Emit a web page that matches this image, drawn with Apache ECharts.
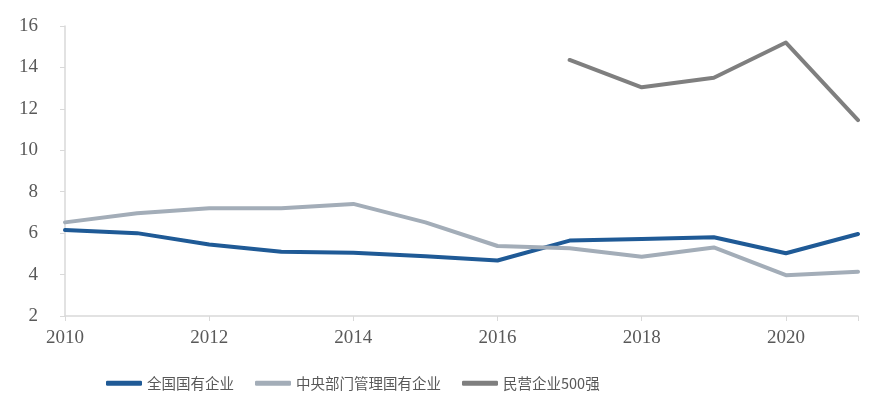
<!DOCTYPE html>
<html><head><meta charset="utf-8">
<script src="https://cdn.jsdelivr.net/npm/echarts@6/dist/echarts.min.js"></script>
<style>html,body{margin:0;padding:0;background:#fff}#c{width:889px;height:404px}</style>
</head><body><div id="c"></div>
<script>
const years = [2010,2011,2012,2013,2014,2015,2016,2017,2018,2019,2020,2021];
const seriesNames = ['全国国有企业','中央部门管理国有企业','民营企业500强'];
const stateAll = [6.15,6.0,5.45,5.1,5.05,4.88,4.68,5.64,5.72,5.8,5.03,5.96];
const central = [6.52,6.96,7.2,7.2,7.41,6.52,5.38,5.27,4.86,5.31,3.97,4.14];
const private500 = [null,null,null,null,null,null,null,14.36,13.04,13.5,15.2,11.46];
const yTicks = [2,4,6,8,10,12,14,16];

const pair = arr => years.map((y,i)=>[y, arr[i]]);
const chart = echarts.init(document.getElementById('c'));
const lbl = {color:'#595959', fontFamily:'Liberation Serif', fontSize:19};
chart.setOption({
  animation:false,
  grid:{left:65,right:31,top:26,bottom:88,containLabel:false},
  xAxis:{type:'value',min:years[0],max:years[years.length-1],interval:2,
    axisLine:{lineStyle:{color:'#d9d9d9',width:1.5}},
    axisTick:{show:true,length:5,lineStyle:{color:'#d9d9d9'}},
    splitLine:{show:false},
    axisLabel:Object.assign({margin:13,formatter:v=>(v%2===0?String(v):'')},lbl)},
  yAxis:{type:'value',min:yTicks[0],max:yTicks[yTicks.length-1],interval:2,
    axisLine:{show:true,lineStyle:{color:'#d9d9d9',width:1.5}},
    axisTick:{show:true,length:5,lineStyle:{color:'#d9d9d9'}},
    splitLine:{show:false},
    axisLabel:Object.assign({margin:27},lbl)},
  legend:{left:101,top:371,itemGap:21,itemWidth:36,itemHeight:5,icon:'roundRect',
    textStyle:{color:'#595959',fontSize:14.5,fontFamily:'Noto Sans CJK SC'},
    data:seriesNames},
  series:[
    {name:seriesNames[0],type:'line',data:pair(stateAll),showSymbol:false,
     lineStyle:{color:'#1f5a96',width:4,cap:'round',join:'round'},itemStyle:{color:'#1f5a96'}},
    {name:seriesNames[1],type:'line',data:pair(central),showSymbol:false,
     lineStyle:{color:'#a3adb8',width:4,cap:'round',join:'round'},itemStyle:{color:'#a3adb8'}},
    {name:seriesNames[2],type:'line',data:pair(private500),showSymbol:false,connectNulls:false,
     lineStyle:{color:'#7f7f7f',width:4,cap:'round',join:'round'},itemStyle:{color:'#7f7f7f'}}
  ]
});
</script></body></html>
